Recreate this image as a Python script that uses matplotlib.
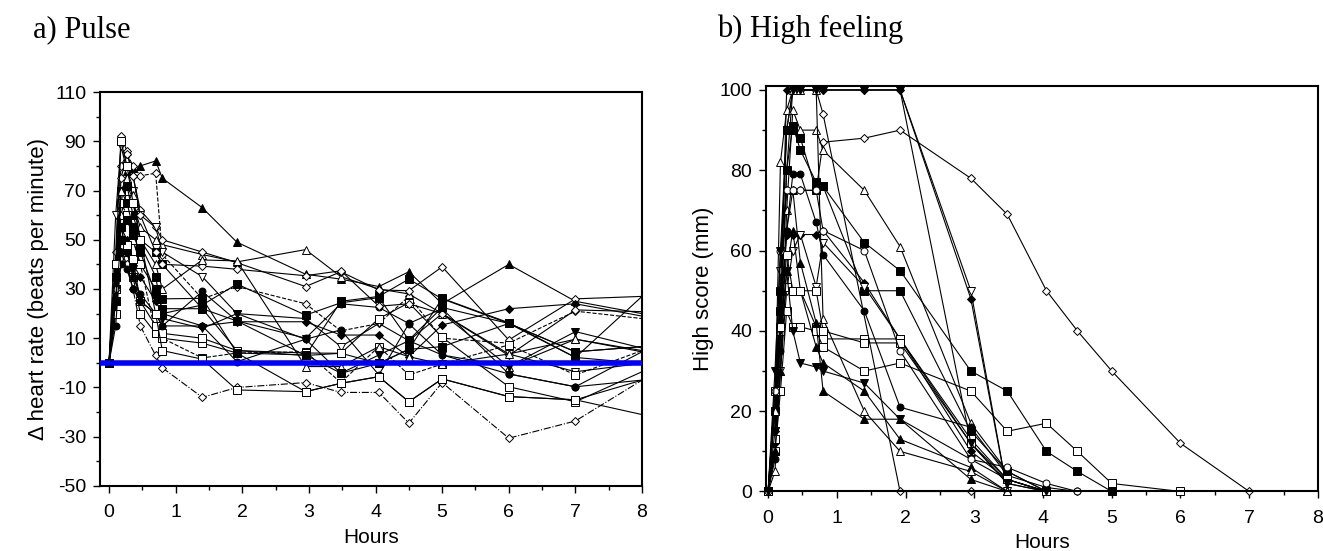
import numpy as np
import matplotlib.pyplot as plt
from matplotlib.ticker import MultipleLocator

plt.rcParams['font.family'] = ['Liberation Sans', 'DejaVu Sans']
plt.rcParams['axes.unicode_minus'] = False

nan = np.nan

#%% data
hours = [0, 0.1, 0.18, 0.27, 0.36, 0.47, 0.7, 0.8, 1.4, 1.92, 2.95, 3.48, 4.05, 4.5, 5, 6, 7, 8]

# a) change in heart rate, one row per subject
pulse = [
    [0, 35, 65, 78, 79, 80, 82, 75, 63, 49, 36, 34, 31, 37, 24, 40, 25, 20],
    [0, 40, 80, 85, 80, 76, 77, 44, 26, 31, 24, 13, 16, 27, 10, 8, 21, 18],
    [0, 20, 45, 40, 30, 15, 3, -2, -14, -10, -8, -12, -12, -24.5, -8, -30.6, -23.6, -7],
    [0, 30, 60, 70, 65, 55, 50, 48, 44, 41, 46, 35, 30, 28, 20, -1.5, 9.6, 5],
    [0, 25, 50, 45, 35, 20, 12, 10, 8, 4, -11.7, -8.3, -5.6, -15.8, -6.5, -13.7, -15, -7],
    [0, 30, 55, 60, 50, 40, 30, 22, 22, 17, 3, 25, 27, 34, 26, 16, 4.5, 6.6],
    [0, 20, 40, 45, 35, 28, 20, 15, 29, 17, 10, 24, 22.5, 16, 22, -4.5, -9.7, 4.5],
    [0, 45, 92, 86, 76, 62, 55, 50, 45, 40.7, 31, 37, 29.6, 29.3, 39, 9.3, 26, 27],
    [0, 60, 88, 78, 70, 60, 55, 45, 35, 20, 18, 6.6, 16, 9, 20, 3.6, -3.6, -0.2],
    [0, 25, 55, 50, 40, 35, 25, 20, 15, 16.7, 16.7, 11.3, 11.3, 2.5, 15.4, 22, 24, 19],
    [0, 35, 70, 72, 60, 50, 45, 40, 22, 5, 3, 3.9, -0.2, 5.5, 6.6, 16, 2.2, 27],
    [0, 30, 65, 60, 50, 40, 12, 10, 2, 4, 4.5, -8, 6.6, -4.9, -0.5, 7.3, -4.9, 5],
    [0, 30, 55, 45, 38, 25, 20, 18, 14, 20, 9.6, -4.2, 3.2, 9, 3.2, -1.5, 12.7, 6],
    [0, 20, 50, 48, 42, 25, 15, 12, 10, 5, 4, 3.9, 18, 24.4, 10.4, -9.7, -15.8, -3.6],
    [0, 30, 75, 85, 76, 60, 45, 40, 39.3, 38, 35.4, 37.4, 23, 24, 20, 3, 21.5, 20.8],
    [0, 40, 70, 65, 55, 48, 35, 20, 23.5, 32, 19.4, 24.4, 26.5, 9.3, 22.5, 16, 4.5, 6.6],
    [0, 15, 45, 38, 30, 25, 20, 15, 15, 0.5, 9.6, 13.4, -4.9, 15.9, 3.2, -4.5, -9.7, -7],
    [0, 25, 70, 75, 68, 50, 40, 30, 41.8, 41.4, -1.5, -1.5, 6.6, 2.5, -0.5, 3.6, 9.6, 4.5],
    [0, 40, 90, 80, 65, 50, 20, 5, 1.5, -11, -11.7, -8.3, -5.6, -15.8, -6.5, -13.7, -15, -21],
    [0, 25, 50, 58, 52, 45, 28, 26, 26.2, 4, 3.2, -4.2, -0.2, 5.5, 26.2, 16.3, 2.2, -0.2],
]
pulse_marker = ['ft', 'od', 'od', 'ot', 'os', 'fs', 'fc', 'od', 'oi', 'fd',
                'fs', 'os', 'fi', 'os', 'od', 'fs', 'fc', 'ot', 'os', 'fs']
pulse_line = ['-', '--', '-.', '-', '-', '-', '-', '-', '-', '-',
              '-', '--', '-', '-', '-', '-', '-', '-', '-', '-']

# b) high score, one row per subject (nan = not recorded)
high = [
    [0, 25, 50, 75, 75, 75, 75, 87, 88, 90, 78, 69, 50, 40, 30, 12, 0, nan],
    [0, 15, 45, 100, 100, 100, 100, 100, 100, 100, 48, 0, nan, nan, nan, nan, nan, nan],
    [0, 12, 55, 90, 100, 100, 100, 100, 100, 100, 50, 0, nan, nan, nan, nan, nan, nan],
    [0, 10, 40, 80, 100, 100, 100, 94, nan, 0, 0, nan, nan, nan, nan, nan, nan, nan],
    [0, 5, 30, 70, 95, 90, 90, 85, 75, 61, 17, 5, 0, nan, nan, nan, nan, nan],
    [0, 20, 50, 90, 90, 88, 75, 76, 62, 55, 30, 25, 10, 5, 0, nan, nan, nan],
    [0, 13, 45, 80, 91, 85, 77, 76, 50, 50, 15, 5, 0, nan, nan, nan, nan, nan],
    [0, 8, 35, 65, 79, 79, 67, 59, 45, 21, 16, 4, 1, 0, nan, nan, nan, nan],
    [0, 12, 45, 64, 64, 64, 64, 65, 52, 38, 10, 3, 0, nan, nan, nan, nan, nan],
    [0, 15, 30, 50, 60, 64, 51, 62, 51, 38, 12, 2, 0, nan, nan, nan, nan, nan],
    [0, 13, 40, 51, 50, 50, 41, 38, 38, 38, 13, 3, 0, nan, nan, nan, nan, nan],
    [0, 10, 25, 45, 41, 41, 40, 36, 30, 32, 25, 15, 17, 10, 2, 0, nan, nan],
    [0, 15, 40, 55, 40, 32, 31, 30, 27, 18, 8, 3, 0, nan, nan, nan, nan, nan],
    [0, 20, 45, 65, 75, 57, 42, 25, 18, 18, 3, 0, nan, nan, nan, nan, nan, nan],
    [0, 10, 30, 55, 65, 50, 36, 32, 25, 13, 6, 0, nan, nan, nan, nan, nan, nan],
    [0, 20, 82, 95, 100, 100, 100, 43, 20, 10, 5, 0, nan, nan, nan, nan, nan, nan],
    [0, 25, 41, 59, 50, 50, 50, 40, 37, 37, 12, 3, 0, nan, nan, nan, nan, nan],
    [0, 25, 60, 75, 75, 75, 75, 65, 60, 35, 8, 6, 2, 0, nan, nan, nan, nan],
    [0, 30, 60, 90, 100, 100, 100, 100, 100, 100, 12, 2, 0, nan, nan, nan, nan, nan],
]
high_marker = ['od', 'fd', 'oi', 'od', 'ot', 'fs', 'fs', 'fc', 'fd', 'oi',
               'os', 'os', 'fi', 'ft', 'ft', 'ot', 'os', 'oc', 'fi']

# marker code -> (marker, face, size)
MK = {'od': ('D', 'white', 4), 'fd': ('D', 'black', 4),
      'ot': ('^', 'white', 5.5), 'ft': ('^', 'black', 5.5),
      'oi': ('v', 'white', 5.5), 'fi': ('v', 'black', 5.5),
      'os': ('s', 'white', 5.5), 'fs': ('s', 'black', 5.5),
      'oc': ('o', 'white', 5), 'fc': ('o', 'black', 5)}


def draw(ax, rows, marks, lines, last_mark=True, clip=True):
    t = np.array(hours)
    for vals, mk, ls in zip(rows, marks, lines):
        v = np.array(vals, dtype=float)
        ok = ~np.isnan(v)
        m, fc, ms = MK[mk]
        every = None if last_mark else slice(0, ok.sum() - 1)
        ax.plot(t[ok], v[ok], color='k', lw=0.8, ls=ls, marker=m, mfc=fc,
                mec='k', mew=0.7, ms=ms, markevery=every, clip_on=clip)


def style(ax):
    for s in ax.spines.values():
        s.set_linewidth(1.5)
    ax.tick_params(which='both', direction='out', labelsize=14, width=1)
    ax.tick_params(which='major', length=5, pad=5)
    ax.tick_params(axis='x', which='major', pad=8)
    ax.tick_params(which='minor', length=3)
    ax.xaxis.set_major_locator(MultipleLocator(1))
    ax.xaxis.set_minor_locator(MultipleLocator(0.5))
    ax.set_xlabel('Hours', fontsize=15, labelpad=5)


fig = plt.figure(figsize=(13.23, 5.51), dpi=100)

#%% a) Pulse
ax1 = fig.add_axes([0.0756, 0.118, 0.4097, 0.715])
draw(ax1, pulse, pulse_marker, pulse_line, last_mark=False)
ax1.axhline(0, color='#0000ff', lw=4, zorder=10)
ax1.set_xlim(-0.135, 8.0)
ax1.set_ylim(-50, 110)
ax1.set_yticks(np.arange(-50, 111, 20))
ax1.yaxis.set_minor_locator(MultipleLocator(10))
style(ax1)
ax1.set_ylabel('\u0394 heart rate (beats per minute)', fontsize=16)
fig.text(0.025, 0.932, 'a) Pulse', fontsize=22, family='Liberation Serif')

#%% b) High feeling
ax2 = fig.add_axes([0.579, 0.108, 0.4172, 0.736])
draw(ax2, high, high_marker, ['-'] * len(high), clip=False)
ax2.set_xlim(-0.03, 8.0)
ax2.set_ylim(0, 101)
ax2.set_yticks(np.arange(0, 101, 20))
ax2.yaxis.set_minor_locator(MultipleLocator(10))
style(ax2)
ax2.set_ylabel('High score (mm)', fontsize=16)
fig.text(0.542, 0.932, 'b) High feeling', fontsize=22, family='Liberation Serif')

fig.savefig('out.png', dpi=100)
